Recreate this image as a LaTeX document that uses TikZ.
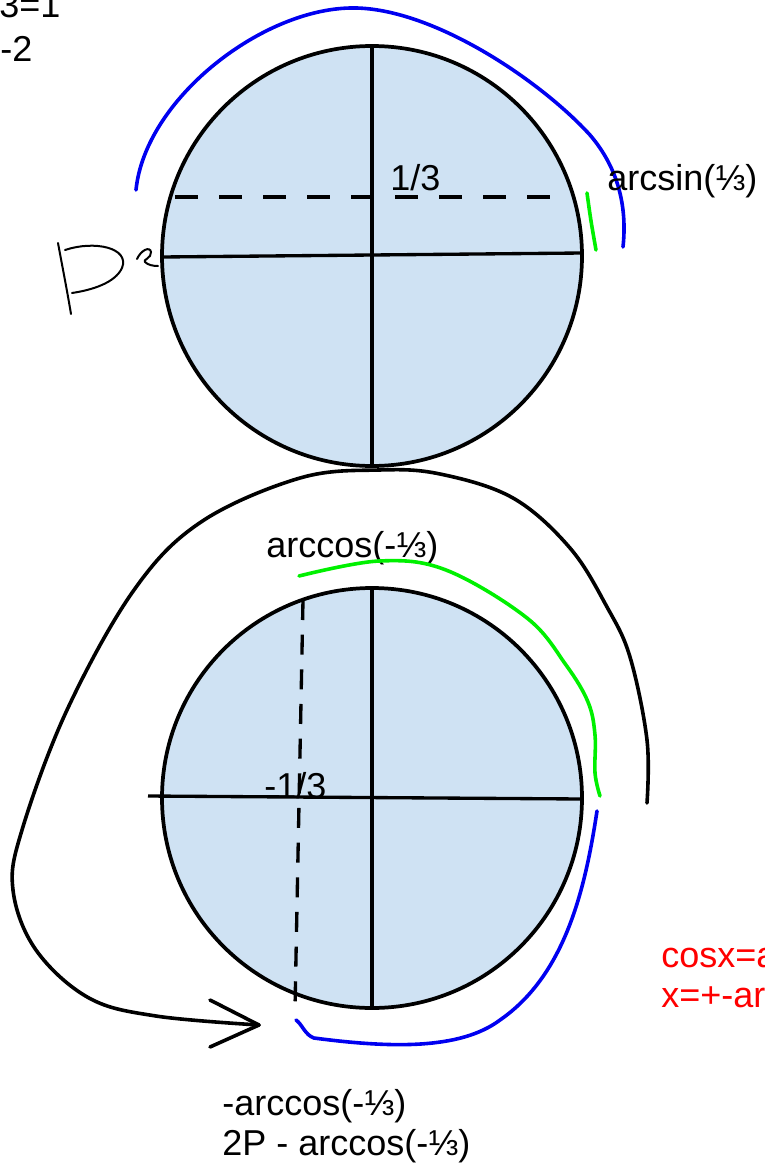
\documentclass[tikz,border=0pt]{standalone}
\usepackage{fontspec}
\setmainfont{Liberation Sans}
\usetikzlibrary{positioning}
\definecolor{discfill}{RGB}{207,226,243}
\definecolor{arcblue}{RGB}{0,0,240}
\definecolor{arcgreen}{RGB}{0,240,0}
\definecolor{notered}{RGB}{255,0,0}
\tikzset{
  %% ---- circles ----
  disc/.style    = {draw=black, line width=2.8pt, fill=discfill},
  axisline/.style= {line width=2.5pt},
  guide/.style   = {line width=3pt, dash pattern=on 17pt off 16pt},
  vguide/.style  = {line width=2.5pt, dash pattern=on 15pt off 11pt},
  %% ---- hand strokes ----
  bluearc/.style = {draw=arcblue, line width=2.7pt, line cap=round},
  greenarc/.style= {draw=arcgreen, line width=2.7pt, line cap=round},
  sweep/.style   = {line width=2.7pt, line cap=round, line join=round},
  scrawl/.style  = {line width=1.5pt, line cap=round},
  %% ---- text ----
  lbl/.style     = {inner sep=0pt, anchor=base west, align=left,
                    font=\fontsize{27}{30}\selectfont},
}

\begin{document}
\begin{tikzpicture}[x=0.75pt, y=-0.75pt]
  \useasboundingbox (0,0) rectangle (764,1163);

  %% Top-left notes
  \node[lbl] (noteA) at (-1,18) {3=1};
  \node[lbl] (noteB) at (0,62) {-2};

  %% Upper circle
  \coordinate (cU) at (372,256);
  \draw[disc] (cU) circle[radius=157.5pt];
  \draw[axisline] (372,47) -- (372,465);
  \draw[axisline] (162,257) -- (582,253);
  \draw[guide] (175,197) -- (560,197);
  \node[lbl] (oneThird) at (390,190) {1/3};

  %% Arcs round the upper circle
  \draw[bluearc] (136,190) .. controls (145,100) and (260,10) .. (350,8)
    .. controls (430,6) and (540,80) .. (590,135)
    .. controls (620,170) and (627,210) .. (623,247);
  \draw[greenarc] plot[smooth] coordinates {(587,193) (591,221) (596,250)};
  \node[lbl] (asin) at (607,190) {arcsin(⅓)};

  %% Hand written P
  \draw[scrawl] (58,243) .. controls (63,270) and (67,290) .. (71,314);
  \draw[scrawl] (65,250) .. controls (95,240) and (130,248) .. (122,268)
    .. controls (115,283) and (92,290) .. (72,293);
  \draw[scrawl] (137,259) .. controls (141,250) and (150,246) .. (151,252)
    .. controls (152,258) and (142,260) .. (145,262)
    .. controls (148,265) and (153,266) .. (158,266);

  %% Lower circle
  \coordinate (cL) at (372,798);
  \draw[disc] (cL) circle[radius=157.5pt];
  \draw[axisline] (372,588) -- (372,1008);
  \draw[axisline] (148,796) -- (582,799);
  \draw[vguide] (303,600) -- (295,1008);
  \node[lbl] (negThird) at (264,798) {-1/3};
  \node[lbl] (acos) at (266,557) {arccos(-⅓)};

  %% Arcs round the lower circle
  \draw[greenarc] plot[smooth, tension=0.6] coordinates {
    (299,576) (379,561) (446,570) (527,618) (566,665) (588,702)
    (595,735) (595,773) (600,796)};
  \draw[bluearc] (597,811) .. controls (585,890) and (565,975) .. (500,1020)
    .. controls (460,1050) and (390,1048) .. (314,1038)
    .. controls (305,1035) and (302,1024) .. (296,1020);

  %% Sweep back round to the lower left
  \coordinate (tip) at (259,1025);
  \draw[sweep] plot[smooth, tension=0.6] coordinates {
    (647,803) (647,740) (630,657) (607,607) (570,548) (513,498)
    (440,474) (379,470) (300,478) (201,522) (134,590) (67,710)
    (22,830) (13,890) (36,950) (89,998) (156,1016) (tip)};
  \draw[sweep] (210,1000) -- (tip) -- (210,1047);

  %% Results
  \node[lbl] (negacos) at (222,1155) {-arccos(-⅓)\\2P - arccos(-⅓)};
  \node[lbl, text=notered] (rule) at (661,1007) {cosx=a\\x=+-ar};

\end{tikzpicture}
\end{document}
